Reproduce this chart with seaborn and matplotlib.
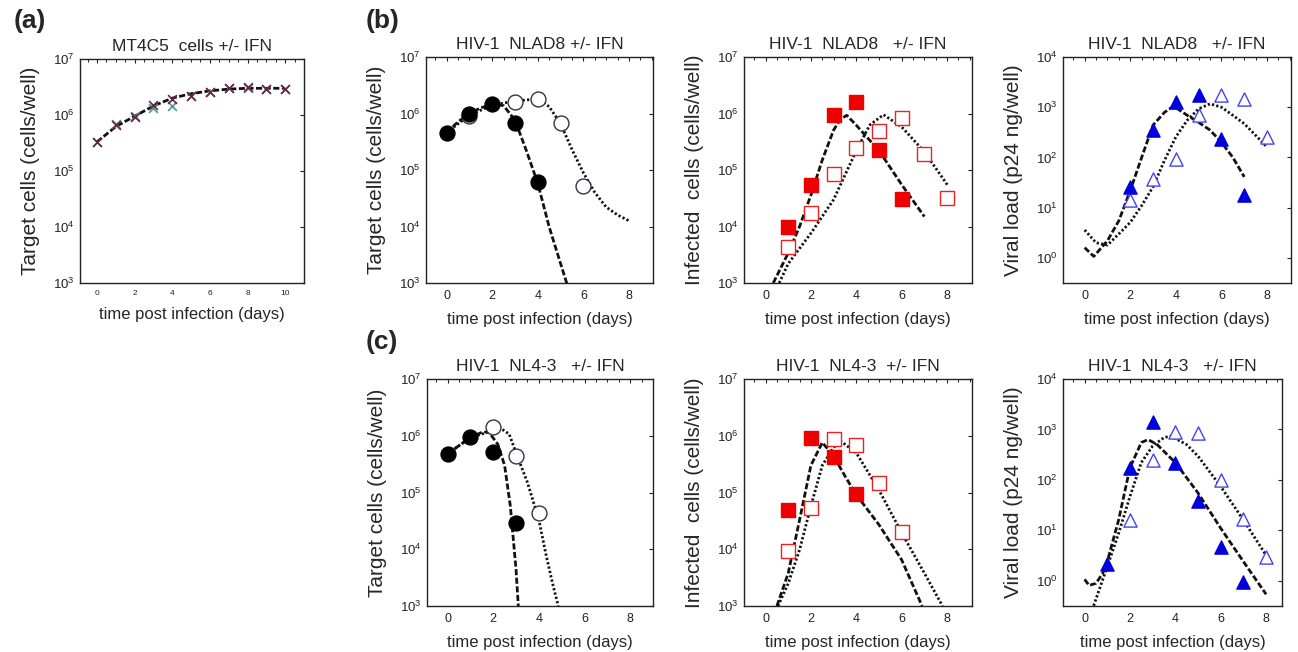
import numpy as np
import pandas as pd
import seaborn as sns
import matplotlib.pyplot as plt
from matplotlib.ticker import MultipleLocator, LogLocator, NullLocator

sns.set_style("white")
plt.rcParams['font.family'] = ['Liberation Sans', 'DejaVu Sans']

# ---- panel (a): MT4C5 cells +/- IFN
a_days = [0, 1, 2, 3, 4, 5, 6, 7, 8, 9, 10]
a_ctrl = [3.3e5, 6.8e5, 9.5e5, 1.35e6, 1.45e6, 2.2e6, 2.6e6, 3.0e6, 3.0e6, 2.9e6, 2.9e6]
a_ifn = [3.3e5, 6.5e5, 9.3e5, 1.5e6, 1.9e6, 2.2e6, 2.6e6, 3.0e6, 3.1e6, 2.9e6, 2.9e6]
a_fit_t = [0, 1, 2, 3, 4, 5, 6, 7, 8, 9, 10]
a_fit = [3.3e5, 6.2e5, 9.5e5, 1.45e6, 2.0e6, 2.4e6, 2.7e6, 2.9e6, 3.0e6, 3.0e6, 3.0e6]

# ---- panel (b): NLAD8
b_tc_day_f = [0, 1, 2, 3, 4]
b_tc_f = [4.6e5, 1.0e6, 1.45e6, 6.9e5, 6.2e4]
b_tc_day_o = [1, 3, 4, 5, 6]
b_tc_o = [8.9e5, 1.6e6, 1.8e6, 6.9e5, 5.2e4]
b_tc_fit_t_f = [0, 0.5, 1, 1.5, 2, 2.5, 3, 3.5, 4, 4.5, 5, 5.5]
b_tc_fit_f = [4.6e5, 7.1e5, 1.0e6, 1.26e6, 1.45e6, 1.38e6, 7.6e5, 2.2e5, 5.8e4, 9.8e3, 2.2e3, 5.0e2]
b_tc_fit_t_o = [0, 1, 2, 3, 4, 4.5, 5, 5.5, 6, 6.5, 7, 7.5, 8]
b_tc_fit_o = [4.6e5, 9.3e5, 1.41e6, 1.66e6, 1.82e6, 1.32e6, 6.6e5, 2.3e5, 8.9e4, 4.0e4, 2.2e4, 1.6e4, 1.26e4]

b_ic_day_f = [1, 2, 3, 4, 5, 6]
b_ic_f = [1.0e4, 5.5e4, 9.4e5, 1.6e6, 2.3e5, 3.1e4]
b_ic_day_o = [1, 2, 3, 4, 5, 6, 7, 8]
b_ic_o = [4.3e3, 1.7e4, 8.5e4, 2.5e5, 4.9e5, 8.3e5, 1.9e5, 3.2e4]
b_ic_fit_t_f = [0.34, 1, 1.5, 2, 2.5, 3, 3.3, 3.58, 4, 5, 6, 7]
b_ic_fit_f = [1.0e3, 3.4e3, 1.0e4, 3.6e4, 1.5e5, 5.1e5, 7.9e5, 9.3e5, 6.2e5, 2.2e5, 5.5e4, 1.5e4]
b_ic_fit_t_o = [0.6, 1, 2, 3, 4, 4.6, 5.2, 6, 7, 8.05]
b_ic_fit_o = [1.0e3, 2.2e3, 7.6e3, 3.0e4, 2.2e5, 6.3e5, 9.5e5, 5.8e5, 2.1e5, 5.2e4]

b_vl_day_f = [2, 3, 4, 5, 6, 7]
b_vl_f = [26, 355, 1260, 1780, 235, 17.5]
b_vl_day_o = [2, 3, 4, 5, 6, 7, 8]
b_vl_o = [14, 37, 92, 690, 1740, 1450, 257]
b_vl_fit_t_f = [0, 0.4, 1, 1.5, 2, 2.5, 3, 3.5, 3.9, 4.5, 5, 5.5, 6, 6.5, 7]
b_vl_fit_f = [1.6, 1.07, 2.2, 5.5, 22, 100, 440, 790, 1050, 690, 500, 350, 200, 100, 41]
b_vl_fit_t_o = [0, 0.5, 1, 1.5, 2, 2.5, 3, 3.5, 4, 4.5, 5, 5.5, 6, 6.5, 7, 7.5, 8]
b_vl_fit_o = [3.6, 2.0, 1.8, 3.0, 5.1, 11, 26, 87, 257, 550, 930, 1170, 1000, 690, 470, 275, 160]

# ---- panel (c): NL4-3
c_tc_day_f = [0, 1, 2, 3]
c_tc_f = [4.8e5, 9.6e5, 5.2e5, 2.9e4]
c_tc_day_o = [2, 3, 4]
c_tc_o = [1.4e6, 4.4e5, 4.3e4]
c_tc_fit_t_f = [0, 1, 1.5, 1.8, 2.2, 2.5, 2.75, 3, 3.1]
c_tc_fit_f = [4.8e5, 9.3e5, 1.15e6, 1.17e6, 7.1e5, 3.0e5, 5.8e4, 4.4e3, 1.0e3]
c_tc_fit_t_o = [0, 1, 2, 2.3, 2.7, 3, 3.5, 4, 4.3, 4.6, 4.85]
c_tc_fit_o = [4.8e5, 9.3e5, 1.23e6, 1.38e6, 1.07e6, 5.0e5, 1.5e5, 3.3e4, 8.5e3, 2.5e3, 1.0e3]

c_ic_day_f = [1, 2, 3, 4]
c_ic_f = [5.0e4, 9.1e5, 4.3e5, 9.3e4]
c_ic_day_o = [1, 2, 3, 4, 5, 6]
c_ic_o = [9.3e3, 5.4e4, 8.7e5, 7.0e5, 1.5e5, 2.0e4]
c_ic_fit_t_f = [0.5, 1, 1.5, 2, 2.5, 3, 3.5, 4, 5, 6, 6.9]
c_ic_fit_f = [1.0e3, 3.8e3, 3.3e4, 3.0e5, 7.6e5, 4.4e5, 1.95e5, 9.1e4, 2.7e4, 6.5e3, 1.0e3]
c_ic_fit_t_o = [0.55, 1, 1.5, 2, 2.5, 3, 3.3, 4, 5, 6, 7, 7.8]
c_ic_fit_o = [1.0e3, 2.5e3, 9.8e3, 5.8e4, 3.0e5, 6.2e5, 8.1e5, 5.0e5, 1.1e5, 1.95e4, 3.8e3, 1.0e3]

c_vl_day_f = [1, 2, 3, 4, 5, 6, 7]
c_vl_f = [2.2, 170, 1400, 218, 39, 4.6, 0.93]
c_vl_day_o = [2, 3, 4, 5, 6, 7, 8]
c_vl_o = [16, 245, 890, 840, 98, 17, 2.9]
c_vl_fit_t_f = [0, 0.2, 0.5, 0.8, 1, 1.5, 2, 2.5, 2.8, 3.2, 4, 5, 6, 7, 8]
c_vl_fit_f = [1.07, 0.81, 0.89, 1.4, 2.4, 16, 174, 550, 630, 500, 220, 55, 11, 2.4, 0.54]
c_vl_fit_t_o = [0.4, 1, 1.5, 2, 2.5, 3, 3.5, 3.8, 4.5, 5, 6, 7, 8]
c_vl_fit_o = [0.32, 1.9, 8.7, 47, 220, 470, 690, 740, 500, 295, 74, 16, 3.2]

DASH = (0, (2.2, 0.9))
DOT = (0, (0.8, 0.8))
W, H = 1298, 652

fig = plt.figure(figsize=(W / 100, H / 100), dpi=100)


def make_ax(left, top, right, bottom):
    return fig.add_axes([left / W, 1 - bottom / H, (right - left) / W, (bottom - top) / H])


def style_ax(ax, xlim, ylim, ylabel, title, xmax_tick, xstep, xfs=9):
    ax.set_yscale('log')
    ax.set_xlim(*xlim)
    ax.set_ylim(*ylim)
    ax.xaxis.set_major_locator(MultipleLocator(xstep))
    ax.xaxis.set_minor_locator(MultipleLocator(0.5))
    ax.set_xticks([t for t in range(0, xmax_tick + 1, xstep)])
    ax.yaxis.set_major_locator(LogLocator(base=10, numticks=10))
    ax.yaxis.set_minor_locator(NullLocator())
    ax.tick_params(which='both', direction='in', top=True, right=True, colors='#222222')
    ax.tick_params(which='major', length=3, width=0.8)
    ax.tick_params(which='minor', length=1.8, width=0.7)
    ax.tick_params(axis='x', labelsize=xfs, pad=5)
    ax.tick_params(axis='y', labelsize=9.5, pad=4)
    for sp in ax.spines.values():
        sp.set_color('#222222')
        sp.set_linewidth(1.0)
    ax.set_title(title, fontsize=12.5, pad=6)
    ax.set_ylabel(ylabel, fontsize=15, labelpad=9)
    ax.set_xlabel('time post infection (days)', fontsize=12, labelpad=7)


def curve(ax, t, v, ls):
    sns.lineplot(x=t, y=v, ax=ax, color='#111111', linewidth=2.0, linestyle=ls,
                 sort=False, estimator=None)


def points(ax, t, v, marker, face, edge, s, lw=1.0):
    sns.scatterplot(x=t, y=v, ax=ax, marker=marker, s=s, color=face,
                    edgecolor=edge, linewidth=lw, zorder=5)


# (a)
ax = make_ax(80, 59, 304, 283)
curve(ax, a_fit_t, a_fit, DASH)
points(ax, a_days, a_ctrl, 'x', '#4a9c8c', '#4a9c8c', 40, 1.2)
points(ax, a_days, a_ifn, 'x', '#6b2148', '#6b2148', 40, 1.2)
style_ax(ax, (-0.9, 11), (1e3, 1e7), 'Target cells (cells/well)', 'MT4C5  cells +/- IFN', 10, 2, xfs=6)

# (b) target cells
ax = make_ax(426, 57, 653, 283)
curve(ax, b_tc_fit_t_f, b_tc_fit_f, DASH)
curve(ax, b_tc_fit_t_o, b_tc_fit_o, DOT)
points(ax, b_tc_day_o, b_tc_o, 'o', 'white', '#333344', 115)
points(ax, b_tc_day_f, b_tc_f, 'o', 'black', 'black', 115)
style_ax(ax, (-0.9, 9.05), (1e3, 1e7), 'Target cells (cells/well)', 'HIV-1  NLAD8 +/- IFN', 8, 2)

# (b) infected cells
ax = make_ax(744, 57, 972, 283)
curve(ax, b_ic_fit_t_f, b_ic_fit_f, DASH)
curve(ax, b_ic_fit_t_o, b_ic_fit_o, DOT)
points(ax, b_ic_day_o, b_ic_o, 's', 'white', '#ee2020', 90)
points(ax, b_ic_day_f, b_ic_f, 's', '#ee0000', '#ee0000', 90)
style_ax(ax, (-0.95, 9.1), (1e3, 1e7), 'Infected  cells (cells/well)', 'HIV-1  NLAD8   +/- IFN', 8, 2)

# (b) viral load
ax = make_ax(1063, 57, 1291, 283)
curve(ax, b_vl_fit_t_f, b_vl_fit_f, DASH)
curve(ax, b_vl_fit_t_o, b_vl_fit_o, DOT)
points(ax, b_vl_day_o, b_vl_o, '^', 'white', '#4444ee', 90)
points(ax, b_vl_day_f, b_vl_f, '^', '#0000dd', '#0000dd', 90)
style_ax(ax, (-0.95, 9.05), (10 ** -0.5, 1e4), 'Viral load (p24 ng/well)', 'HIV-1  NLAD8   +/- IFN', 8, 2)

# (c) target cells
ax = make_ax(427, 379, 653, 606)
curve(ax, c_tc_fit_t_f, c_tc_fit_f, DASH)
curve(ax, c_tc_fit_t_o, c_tc_fit_o, DOT)
points(ax, c_tc_day_o, c_tc_o, 'o', 'white', '#333344', 115)
points(ax, c_tc_day_f, c_tc_f, 'o', 'black', 'black', 115)
style_ax(ax, (-0.9, 9.0), (1e3, 1e7), 'Target cells (cells/well)', 'HIV-1  NL4-3   +/- IFN', 8, 2)

# (c) infected cells
ax = make_ax(744, 379, 972, 606)
curve(ax, c_ic_fit_t_f, c_ic_fit_f, DASH)
curve(ax, c_ic_fit_t_o, c_ic_fit_o, DOT)
points(ax, c_ic_day_o, c_ic_o, 's', 'white', '#ee2020', 90)
points(ax, c_ic_day_f, c_ic_f, 's', '#ee0000', '#ee0000', 90)
style_ax(ax, (-0.95, 9.1), (1e3, 1e7), 'Infected  cells (cells/well)', 'HIV-1  NL4-3  +/- IFN', 8, 2)

# (c) viral load
ax = make_ax(1063, 379, 1282, 606)
curve(ax, c_vl_fit_t_f, c_vl_fit_f, DASH)
curve(ax, c_vl_fit_t_o, c_vl_fit_o, DOT)
points(ax, c_vl_day_o, c_vl_o, '^', 'white', '#4444ee', 90)
points(ax, c_vl_day_f, c_vl_f, '^', '#0000dd', '#0000dd', 90)
style_ax(ax, (-0.95, 8.7), (10 ** -0.5, 1e4), 'Viral load (p24 ng/well)', 'HIV-1  NL4-3   +/- IFN', 8, 2)

for lab, x, y in [('(a)', 14, 21), ('(b)', 366, 21), ('(c)', 366, 342)]:
    fig.text(x / W, 1 - y / H, lab, fontsize=19, fontweight='bold', va='center', ha='left')

fig.savefig('out.png', dpi=100)
